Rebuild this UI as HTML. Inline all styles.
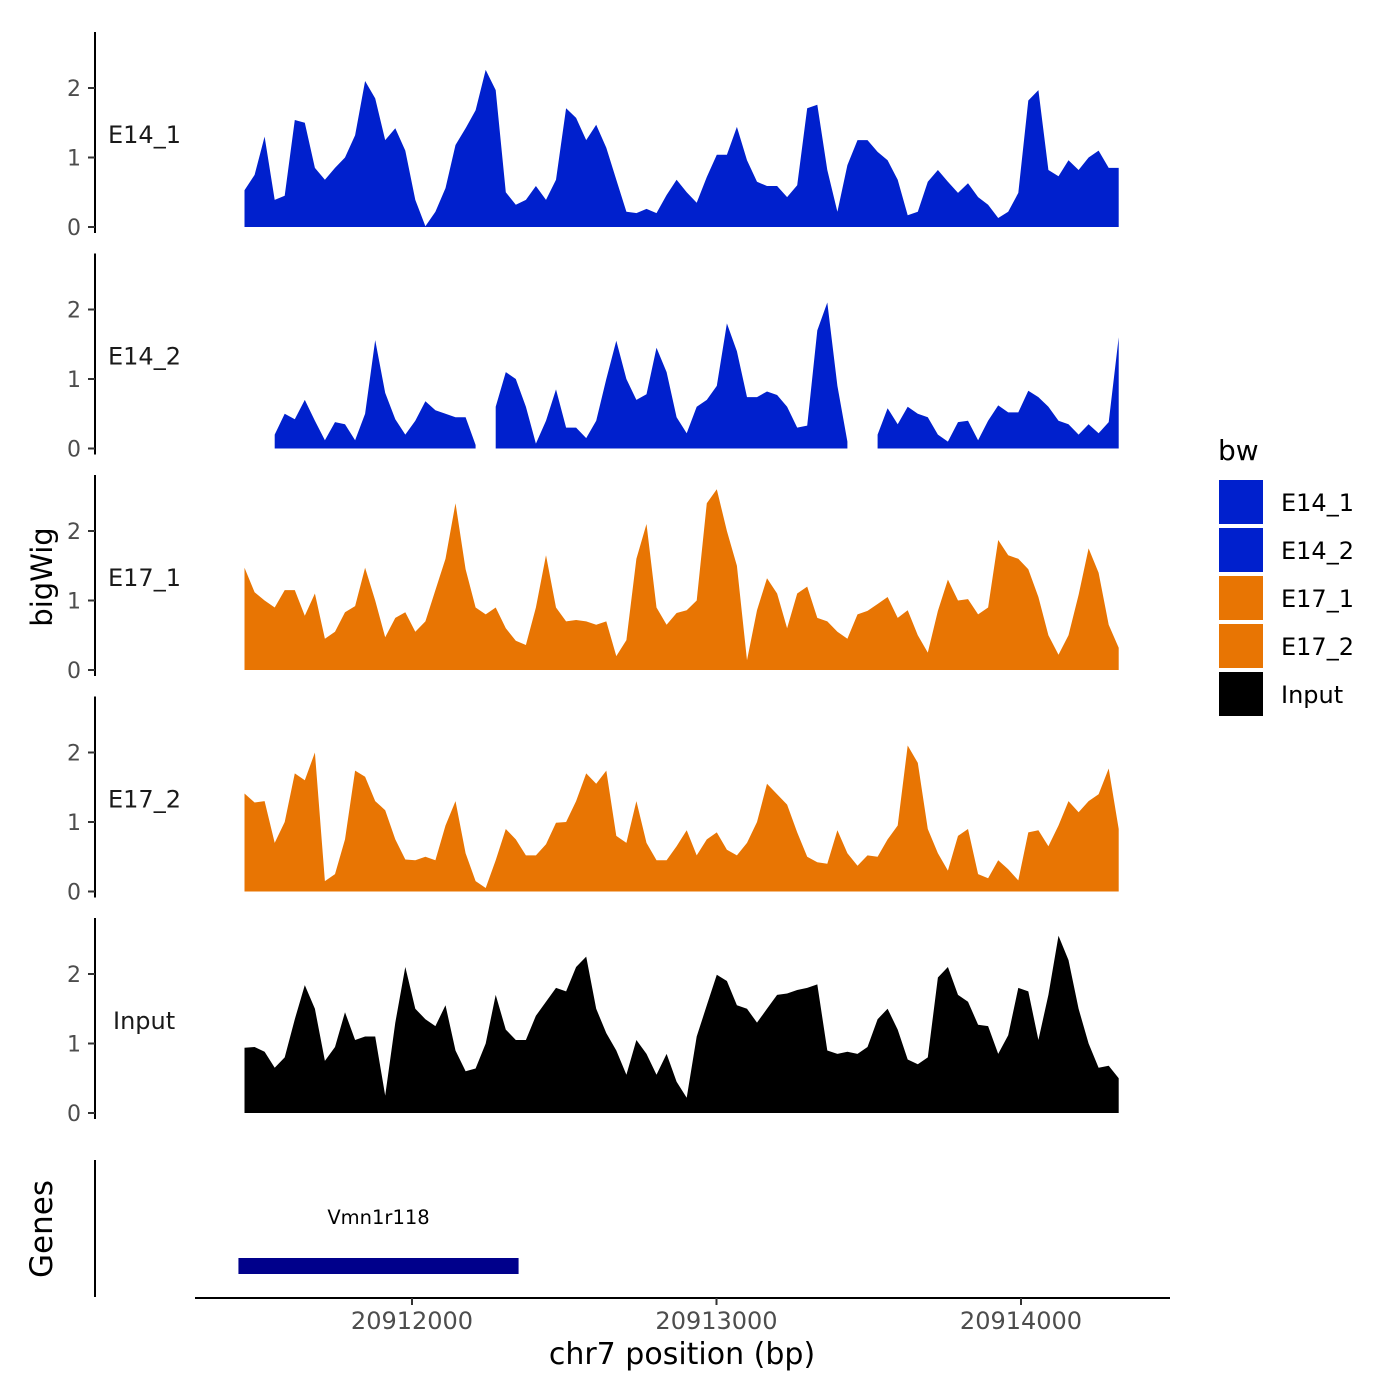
<!DOCTYPE html>
<html><head><meta charset="utf-8"><style>
html,body{margin:0;padding:0;background:#fff}
svg{display:block;font-family:"DejaVu Sans","Liberation Sans",sans-serif}
</style></head><body>
<svg id="chart" width="1400" height="1400" viewBox="0 0 1400 1400">
<rect width="1400" height="1400" fill="#fff"/>
<g id="tracks"></g>
<text x="52" y="577" transform="rotate(-90 52 577)" text-anchor="middle" font-size="29" fill="#000">bigWig</text>
<text x="52" y="1229" transform="rotate(-90 52 1229)" text-anchor="middle" font-size="31" fill="#000">Genes</text>
<line x1="95" y1="1160" x2="95" y2="1297" stroke="#000" stroke-width="2"/>
<g id="genes"></g>
<line x1="195" y1="1298" x2="1170" y2="1298" stroke="#000" stroke-width="2"/>
<g id="xaxis"></g>
<text x="682" y="1364" text-anchor="middle" font-size="30" fill="#000">chr7 position (bp)</text>
<g id="legend">
<text x="1218" y="460" font-size="28" fill="#000">bw</text>
</g>
</svg>
<script>
const trackNames = ["E14_1","E14_2","E17_1","E17_2","Input"];
const trackColors = ["#0020CD","#0020CD","#E87503","#E87503","#000000"];
const binStart = 20911450;
const binSize = 33;
const e14_1 = [0.53,0.75,1.3,0.39,0.45,1.54,1.5,0.85,0.68,0.85,1.0,1.32,2.1,1.85,1.25,1.42,1.1,0.39,0.01,0.22,0.56,1.18,1.42,1.68,2.26,1.97,0.5,0.32,0.39,0.59,0.39,0.68,1.71,1.57,1.25,1.47,1.14,0.68,0.22,0.2,0.26,0.2,0.46,0.68,0.5,0.35,0.72,1.04,1.04,1.44,0.96,0.65,0.59,0.59,0.43,0.6,1.71,1.76,0.82,0.22,0.89,1.25,1.25,1.08,0.96,0.68,0.17,0.22,0.65,0.82,0.65,0.49,0.63,0.43,0.32,0.13,0.22,0.49,1.82,1.97,0.82,0.73,0.96,0.82,1.0,1.1,0.85,0.85];
const e14_2 = [null,null,null,0.2,0.5,0.42,0.7,0.4,0.12,0.38,0.35,0.12,0.5,1.56,0.8,0.42,0.2,0.4,0.68,0.55,0.5,0.45,0.45,0.05,null,0.6,1.1,1.0,0.6,0.07,0.4,0.85,0.3,0.3,0.15,0.4,1.0,1.55,1.0,0.7,0.78,1.45,1.1,0.45,0.22,0.6,0.7,0.9,1.8,1.4,0.74,0.74,0.82,0.77,0.6,0.3,0.33,1.7,2.1,0.9,0.1,null,null,0.2,0.58,0.35,0.6,0.5,0.45,0.2,0.1,0.38,0.4,0.12,0.4,0.62,0.52,0.52,0.83,0.74,0.6,0.4,0.35,0.2,0.35,0.22,0.38,1.6];
const e17_1 = [1.47,1.12,1.0,0.9,1.15,1.15,0.78,1.1,0.45,0.55,0.83,0.92,1.47,1.0,0.47,0.75,0.83,0.55,0.7,1.15,1.6,2.4,1.45,0.9,0.8,0.9,0.6,0.42,0.36,0.9,1.65,0.9,0.7,0.72,0.7,0.65,0.7,0.2,0.43,1.6,2.1,0.9,0.65,0.82,0.86,1.0,2.4,2.6,2.0,1.5,0.14,0.86,1.32,1.1,0.6,1.1,1.2,0.75,0.7,0.55,0.45,0.8,0.85,0.95,1.05,0.75,0.86,0.5,0.25,0.85,1.3,1.0,1.02,0.8,0.9,1.87,1.65,1.6,1.45,1.05,0.5,0.22,0.5,1.08,1.75,1.4,0.65,0.32];
const e17_2 = [1.41,1.28,1.3,0.7,1.0,1.7,1.6,2.0,0.15,0.25,0.75,1.74,1.65,1.3,1.17,0.75,0.46,0.45,0.5,0.45,0.95,1.3,0.55,0.15,0.05,0.45,0.9,0.75,0.52,0.52,0.68,0.99,1.0,1.3,1.7,1.55,1.74,0.8,0.7,1.3,0.7,0.45,0.45,0.65,0.88,0.52,0.75,0.85,0.6,0.52,0.7,1.0,1.55,1.4,1.25,0.85,0.5,0.42,0.4,0.88,0.55,0.37,0.52,0.5,0.75,0.95,2.1,1.85,0.9,0.55,0.3,0.8,0.9,0.25,0.19,0.45,0.32,0.16,0.85,0.88,0.65,0.95,1.3,1.14,1.3,1.4,1.77,0.9];
const input = [0.94,0.95,0.88,0.65,0.8,1.35,1.84,1.5,0.75,0.95,1.45,1.05,1.1,1.1,0.25,1.3,2.1,1.5,1.35,1.25,1.55,0.9,0.6,0.64,1.0,1.7,1.2,1.05,1.05,1.4,1.6,1.8,1.75,2.1,2.25,1.5,1.15,0.9,0.55,1.05,0.85,0.55,0.85,0.45,0.22,1.1,1.55,1.99,1.9,1.55,1.5,1.3,1.5,1.7,1.72,1.77,1.8,1.85,0.9,0.85,0.88,0.85,0.95,1.35,1.5,1.2,0.77,0.7,0.8,1.95,2.1,1.7,1.6,1.27,1.25,0.85,1.12,1.8,1.75,1.05,1.7,2.55,2.2,1.5,1.0,0.65,0.68,0.5];
const yTicks = [0,1,2];
const xTicks = [20912000,20913000,20914000];
const gene = {name:"Vmn1r118", start:20911430, end:20912350};
const series = [e14_1,e14_2,e17_1,e17_2,input];

const NS="http://www.w3.org/2000/svg";
function mk(tag,attrs,parent){const e=document.createElementNS(NS,tag);for(const k in attrs)e.setAttribute(k,attrs[k]);parent.appendChild(e);return e;}
function xScale(bp){return 412+(bp-20912000)*0.3045;}
const panelZero0=227, panelStep=221.5, pxPerUnit=69.5;
function yScale(p,v){return panelZero0+p*panelStep-v*pxPerUnit;}

const tracks=document.getElementById('tracks');
series.forEach((vals,p)=>{
  const g=mk('g',{},tracks);
  
  
  const top=32+p*panelStep, bot=233+p*panelStep;
  const ax=mk('line',{x1:95,y1:top,x2:95,y2:bot,stroke:'#000','stroke-width':2},g);
  
  
  yTicks.forEach(t=>{
    const y=yScale(p,t);
    const tl=mk('line',{x1:88,y1:y,x2:95,y2:y,stroke:'#333','stroke-width':2},g);
    
    
    const tx=mk('text',{x:81,y:y+8,'text-anchor':'end','font-size':22,fill:'#4d4d4d'},g);
    tx.textContent=t;
    
    
  });
  const lab=mk('text',{x:trackNames[p]==='Input'?113:108,y:top+111,'font-size':24,fill:'#1a1a1a'},g);
  lab.textContent=trackNames[p];
  
  
  let seg=[];const segs=[];
  vals.forEach((v,i)=>{if(v===null){if(seg.length)segs.push(seg);seg=[];}else seg.push([i,v]);});
  if(seg.length)segs.push(seg);
  segs.forEach(s=>{
    const z=yScale(p,0);
    let d='M'+xScale(binStart+s[0][0]*binSize).toFixed(1)+','+z;
    s.forEach(([i,v])=>{d+='L'+xScale(binStart+i*binSize).toFixed(1)+','+yScale(p,v).toFixed(1);});
    d+='L'+xScale(binStart+s[s.length-1][0]*binSize).toFixed(1)+','+z+'Z';
    const a=mk('path',{d:d,fill:trackColors[p]},g);
    
    
  });
});

const genes=document.getElementById('genes');
const gx1=xScale(gene.start), gx2=xScale(gene.end);
const gr=mk('rect',{x:gx1,y:1258,width:gx2-gx1,height:16,fill:'#00008B'},genes);


const gt=mk('text',{x:(gx1+gx2)/2,y:1224,'text-anchor':'middle','font-size':19.5,fill:'#000'},genes);
gt.textContent=gene.name;



const xa=document.getElementById('xaxis');
xTicks.forEach(t=>{
  const x=xScale(t);
  const l=mk('line',{x1:x,y1:1298,x2:x,y2:1305,stroke:'#333','stroke-width':2},xa);
  
  
  const tx=mk('text',{x:x,y:1329,'text-anchor':'middle','font-size':24,fill:'#4d4d4d'},xa);
  tx.textContent=t;
  
  
});

const lg=document.getElementById('legend');
trackNames.forEach((n,k)=>{
  const y=480+k*48;
  const r=mk('rect',{x:1219,y:y,width:44,height:44,fill:trackColors[k]},lg);
  
  
  const t=mk('text',{x:1281,y:y+31,'font-size':24,fill:'#000'},lg);
  t.textContent=n;
  
  
});
</script>
</body></html>
